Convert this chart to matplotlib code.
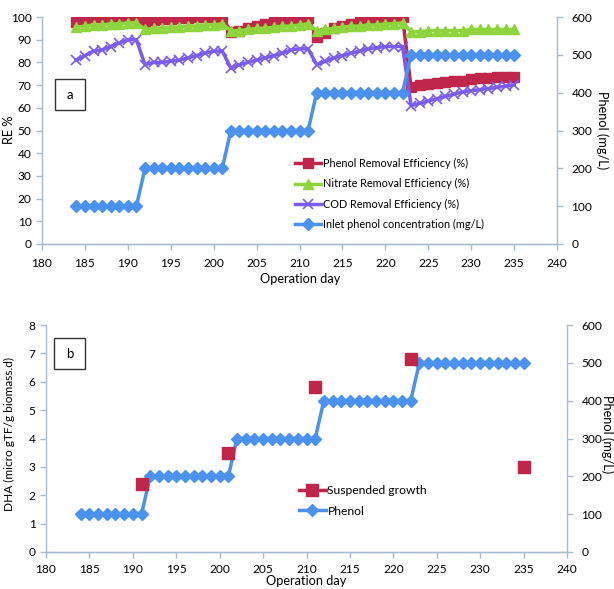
import matplotlib
matplotlib.use("Agg")
import matplotlib.pyplot as plt
from matplotlib.lines import Line2D
from matplotlib.patches import Rectangle

plt.rcParams['font.family'] = ['Lato', 'DejaVu Sans']

# ---------------- data (panel a) ----------------
days_a = list(range(184, 236))
inlet_phenol = [100]*8 + [200]*10 + [300]*10 + [400]*11 + [500]*13
phenol_re = [98, 99, 100, 100, 100, 100, 100, 100,
             98, 98.5, 99, 99, 99.5, 99.5, 100, 100, 100, 100,
             93.5, 94, 95, 96, 97, 98, 98.5, 99, 99.5, 99.5,
             91, 93, 95, 96, 97, 98, 98.5, 99, 99.5, 99.5, 100,
             69, 70, 70.5, 71, 71.5, 72, 72, 72.5, 73, 73, 73.5, 73.5, 73.5]
nitrate_re = [95.5, 96, 96.5, 96.5, 97, 97, 97.5, 97.5,
              94.5, 95, 95, 95.5, 95.5, 96, 96, 96.5, 96.5, 97,
              94, 94, 94.5, 95, 95, 95.5, 96, 96, 96.5, 97,
              94, 94.5, 95, 95.5, 96, 96, 96.5, 96.5, 97, 97, 97.5,
              93.5, 93.5, 94, 94, 94, 94, 94, 94.5, 94.5, 94.5, 94.5, 94.5, 94.5]
cod_re = [81, 83, 85, 85.5, 87, 88.5, 90, 90,
          79, 80, 80, 80.5, 81, 82, 83, 84, 85, 85,
          77.5, 79, 80, 81, 82, 83, 84, 85.5, 86, 86,
          79, 80.5, 82, 83, 84, 85, 86, 86.5, 87, 87, 87,
          61, 62, 63, 64, 65, 66, 67, 67.5, 68, 68.5, 69, 69.5, 70]

# ---------------- data (panel b) ----------------
days_b = list(range(184, 236))
phenol_b = [100]*8 + [200]*10 + [300]*10 + [400]*11 + [500]*13
dha_days = [191, 201, 211, 222, 235]
dha_susp = [2.4, 3.5, 5.8, 6.8, 3.0]

labels_a = ['Phenol Removal Efficiency (%)', 'Nitrate Removal Efficiency (%)',
            'COD Removal Efficiency (%)', 'Inlet phenol concentration (mg/L)']
labels_b = ['Suspended growth', 'Phenol']

RED = '#C0264A'
GREEN = '#8ED43C'
PURPLE = '#7A5CEE'
BLUE = '#4A92EE'
SPINE = '#A9BCCB'

W, H = 614, 589
fig = plt.figure(figsize=(W/100, H/100), dpi=100)
TICK_FS = 8.6
LAB_FS = 9.2

def style(ax):
    ax.spines['top'].set_visible(False)
    for s in ['left', 'right', 'bottom']:
        ax.spines[s].set_color(SPINE)
        ax.spines[s].set_linewidth(1.0)
    ax.tick_params(colors=SPINE, labelcolor='black', labelsize=TICK_FS,
                   length=4, width=1.0, direction='out')
    ax.tick_params(axis='x', pad=6)
    ax.tick_params(axis='y', pad=3.5)

def box(ax_px):
    l, t, r, b = ax_px
    return [l/W, (H-b)/H, (r-l)/W, (b-t)/H]

def ftext(x, y, s, **kw):
    return fig.text(x/W, 1-y/H, s, ha='center', va='center', **kw)

# ---------------- panel a ----------------
ax1 = fig.add_axes(box((42, 17, 557, 244)))
ax1b = ax1.twinx()
ax1.plot(days_a, phenol_re, color=RED, lw=2.5, marker='s', ms=7, mec=RED, zorder=3)
ax1.plot(days_a, nitrate_re, color=GREEN, lw=2.5, marker='^', ms=7, mec=GREEN, zorder=4)
ax1.plot(days_a, cod_re, color=PURPLE, lw=2.5, marker='x', ms=7, mew=1.2, zorder=5)
ax1b.plot(days_a, inlet_phenol, color=BLUE, lw=2.5, marker='D', ms=6, mec=BLUE)
ax1.set_xlim(180, 240)
ax1.set_ylim(0, 100)
ax1b.set_ylim(0, 600)
ax1.set_xticks(range(180, 241, 5))
ax1.set_yticks(range(0, 101, 10))
ax1b.set_yticks(range(0, 601, 100))
style(ax1); style(ax1b)
ax1b.tick_params(axis='y', pad=6.5)
ax1b.spines['left'].set_visible(False)
ax1.spines['right'].set_visible(False)
ftext(300, 279, 'Operation day', fontsize=LAB_FS)
ftext(9, 130, 'RE %', fontsize=LAB_FS, rotation=90)
ftext(602, 130, 'Phenol (mg/L)', fontsize=LAB_FS, rotation=270)

h_a = [Line2D([], [], color=RED, lw=2.5, marker='s', ms=7),
       Line2D([], [], color=GREEN, lw=2.5, marker='^', ms=7),
       Line2D([], [], color=PURPLE, lw=2.5, marker='x', ms=7, mew=1.2),
       Line2D([], [], color=BLUE, lw=2.5, marker='D', ms=6)]
fig.legend(h_a, labels_a, loc='upper left', bbox_to_anchor=(295/W, 1-158/H),
           frameon=False, fontsize=7.8, handlelength=2.4, handletextpad=0.15,
           labelspacing=0.85, borderpad=0, borderaxespad=0)

fig.patches.append(Rectangle((55/W, 1-110/H), 30/W, 31/H, transform=fig.transFigure,
                             fill=True, facecolor='white', edgecolor='#333333', lw=1.0))
ftext(70, 95, 'a', fontsize=9.5)

# ---------------- panel b ----------------
ax2 = fig.add_axes(box((46, 325, 567, 552)))
ax2b = ax2.twinx()
ax2.plot(dha_days, dha_susp, ls='none', marker='s', ms=8, color=RED, mec=RED, zorder=5)
ax2b.plot(days_b, phenol_b, color=BLUE, lw=2.5, marker='D', ms=6, mec=BLUE)
ax2.set_zorder(ax2b.get_zorder() + 1)
ax2.patch.set_visible(False)
ax2.set_xlim(180, 240)
ax2.set_ylim(0, 8)
ax2b.set_ylim(0, 600)
ax2.set_xticks(range(180, 241, 5))
ax2.set_yticks(range(0, 9, 1))
ax2b.set_yticks(range(0, 601, 100))
style(ax2); style(ax2b)
ax2.tick_params(axis='x', pad=4.5)
ax2b.tick_params(axis='y', pad=6.5)
ax2b.spines['left'].set_visible(False)
ax2.spines['right'].set_visible(False)
ftext(306, 581, 'Operation day', fontsize=LAB_FS)
ftext(9, 434, 'DHA (micro gTF/g biomass.d)', fontsize=8.6, rotation=90)
ftext(607, 434, 'Phenol (mg/L)', fontsize=LAB_FS, rotation=270)

h_b = [Line2D([], [], color=RED, lw=2.5, marker='s', ms=8),
       Line2D([], [], color=BLUE, lw=2.5, marker='D', ms=6)]
fig.legend(h_b, labels_b, loc='upper left', bbox_to_anchor=(299/W, 1-485/H),
           frameon=False, fontsize=8.7, handlelength=2.2, handletextpad=0.15,
           labelspacing=0.8, borderpad=0, borderaxespad=0)

fig.patches.append(Rectangle((54/W, 1-369/H), 31/W, 31/H, transform=fig.transFigure,
                             fill=True, facecolor='white', edgecolor='#333333', lw=1.0))
ftext(69.5, 353.5, 'b', fontsize=9.5)

fig.savefig('out.png', dpi=100)
